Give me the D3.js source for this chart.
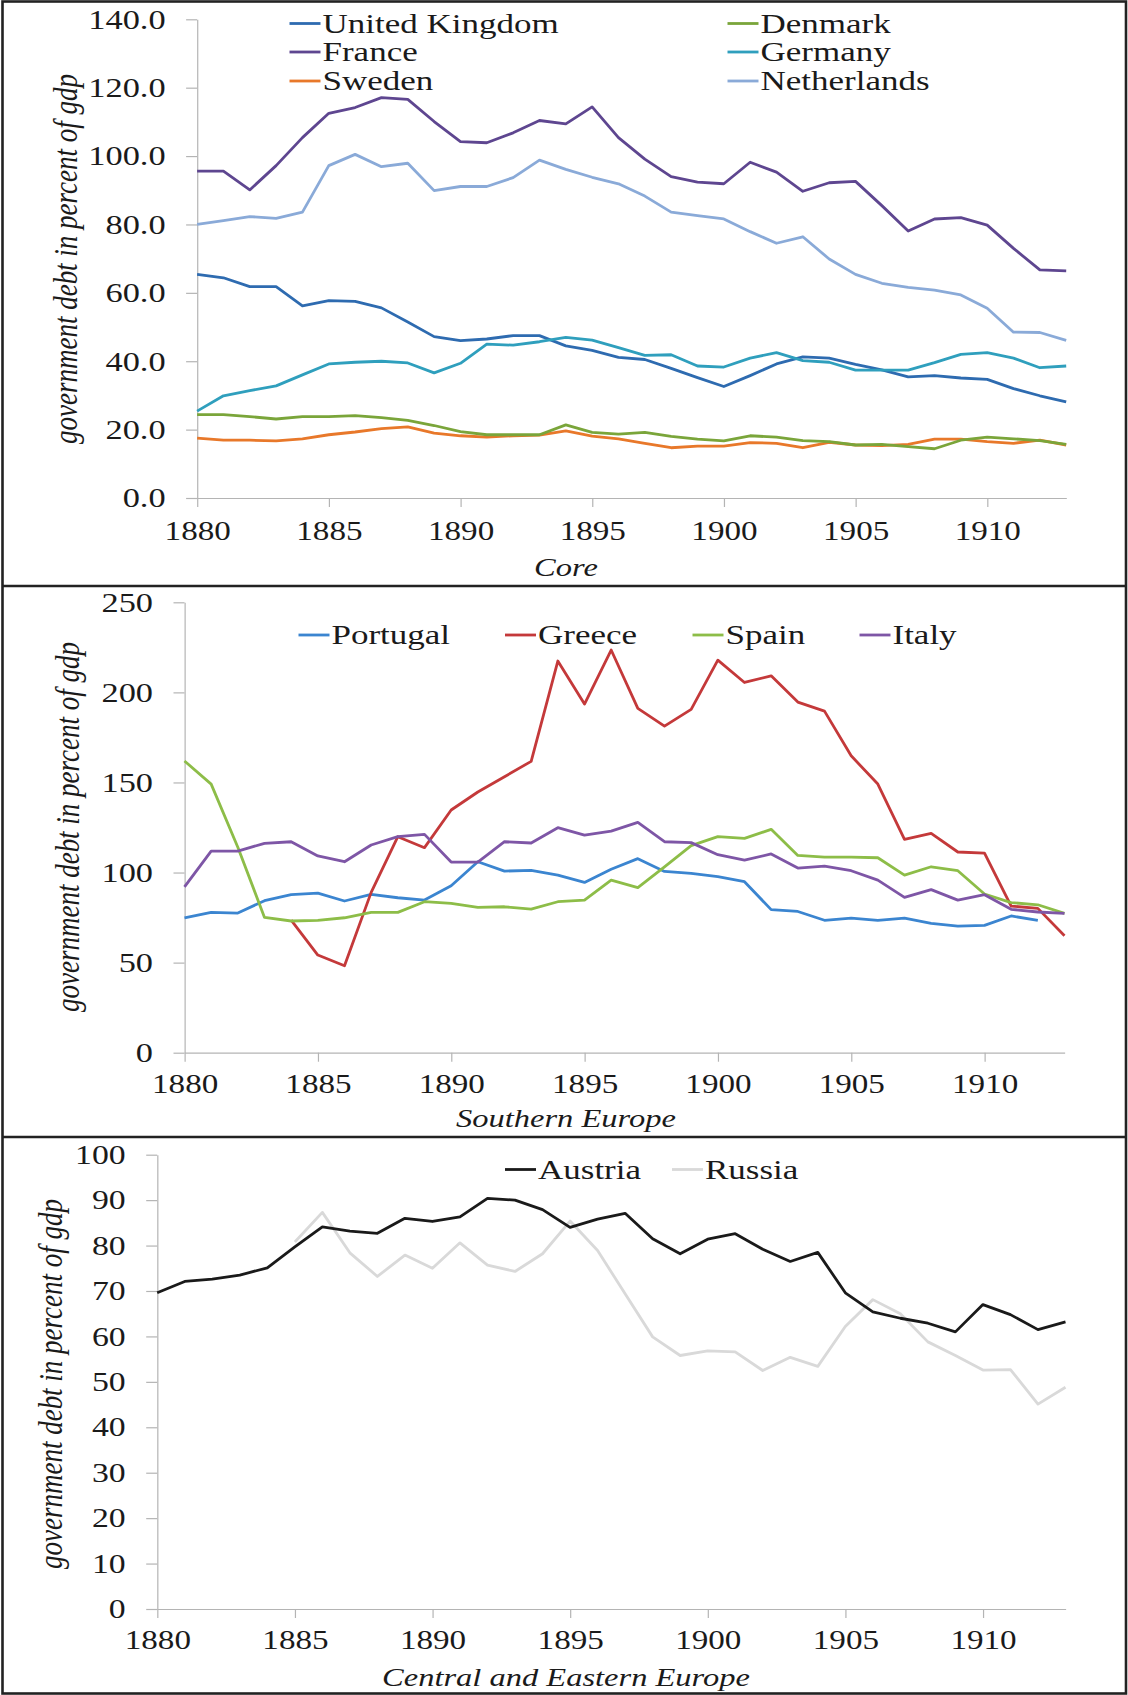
<!DOCTYPE html>
<html>
<head>
<meta charset="utf-8">
<script src="https://cdn.jsdelivr.net/npm/d3@7"></script>
<style>
  html, body { margin: 0; padding: 0; background: #fff; }
  svg { display: block; font-family: "Liberation Serif", "Times New Roman", serif; }
</style>
</head>
<body>
<svg id="chart" width="1128" height="1695"></svg>
<script>
const years = [1880, 1881, 1882, 1883, 1884, 1885, 1886, 1887, 1888, 1889,
    1890, 1891, 1892, 1893, 1894, 1895, 1896, 1897, 1898, 1899,
    1900, 1901, 1902, 1903, 1904, 1905, 1906, 1907, 1908, 1909,
    1910, 1911, 1912, 1913];
const yearTicks = [1880, 1885, 1890, 1895, 1900, 1905, 1910];

// Core
const coreTicks = [0, 20, 40, 60, 80, 100, 120, 140];
const unitedKingdom = [65.4, 64.4, 61.8, 61.8, 56.2, 57.7, 57.5, 55.6, 51.5, 47.2, 46.0, 46.5, 47.5, 47.5, 44.5, 43.2, 41.1, 40.5, 37.9, 35.2, 32.6, 35.8, 39.2, 41.3, 40.9, 39.1, 37.5, 35.4, 35.8, 35.1, 34.7, 32.0, 29.9, 28.1];
const france = [95.6, 95.6, 90.1, 97.2, 105.4, 112.5, 114.2, 117.1, 116.6, 110.1, 104.2, 103.9, 106.8, 110.4, 109.4, 114.4, 105.4, 99.1, 94.0, 92.4, 91.9, 98.2, 95.3, 89.7, 92.2, 92.6, 85.5, 78.1, 81.6, 82.0, 79.8, 73.0, 66.7, 66.4];
const sweden = [17.5, 16.9, 16.9, 16.7, 17.3, 18.5, 19.3, 20.3, 20.8, 19.0, 18.2, 17.8, 18.2, 18.4, 19.6, 18.1, 17.3, 16.0, 14.7, 15.2, 15.2, 16.2, 16.0, 14.7, 16.3, 15.5, 15.3, 15.7, 17.2, 17.2, 16.5, 16.0, 16.9, 15.5];
const denmark = [24.4, 24.4, 23.8, 23.1, 23.8, 23.8, 24.1, 23.5, 22.7, 21.2, 19.4, 18.5, 18.5, 18.5, 21.4, 19.2, 18.7, 19.2, 18.0, 17.2, 16.7, 18.2, 17.8, 16.8, 16.5, 15.5, 15.7, 15.0, 14.4, 16.9, 17.8, 17.3, 16.8, 15.7];
const germany = [25.4, 29.9, 31.4, 32.8, 36.0, 39.2, 39.7, 40.0, 39.5, 36.6, 39.4, 45.0, 44.7, 45.7, 47.0, 46.2, 44.0, 41.7, 41.9, 38.6, 38.3, 40.9, 42.5, 40.2, 39.7, 37.4, 37.4, 37.4, 39.6, 42.0, 42.5, 40.9, 38.1, 38.6];
const netherlands = [80.0, 81.1, 82.3, 81.8, 83.6, 97.2, 100.5, 96.9, 97.9, 89.9, 91.1, 91.1, 93.7, 98.8, 96.1, 93.8, 91.9, 88.3, 83.6, 82.6, 81.6, 77.9, 74.5, 76.4, 69.9, 65.4, 62.8, 61.6, 60.8, 59.4, 55.5, 48.5, 48.4, 46.1];

// Southern Europe
const southTicks = [0, 50, 100, 150, 200, 250];
const portugal = [74.9, 77.9, 77.5, 84.4, 87.7, 88.6, 84.2, 87.9, 86.0, 84.7, 92.7, 106.0, 100.8, 101.2, 98.6, 94.5, 101.8, 107.7, 100.6, 99.5, 97.7, 94.9, 79.4, 78.4, 73.5, 74.7, 73.5, 74.7, 71.8, 70.3, 70.7, 75.9, 73.5, null];
const greece = [null, null, null, null, 73.6, 54.2, 48.3, 89.0, 119.9, 113.8, 134.7, 144.7, 153.2, 161.7, 217.4, 193.5, 223.5, 191.1, 181.3, 190.6, 217.9, 205.5, 209.2, 194.6, 189.6, 164.8, 149.1, 118.4, 121.7, 111.4, 110.8, 81.4, 80.1, 64.9];
const spain = [161.9, 149.1, 114.0, 75.1, 73.1, 73.5, 74.9, 77.9, 77.9, 83.8, 82.9, 80.7, 81.0, 79.7, 83.8, 84.7, 95.8, 91.6, 103.2, 114.9, 119.9, 119.0, 124.0, 109.5, 108.6, 108.6, 108.2, 98.6, 103.2, 101.0, 88.1, 83.3, 82.1, 77.3];
const italy = [92.0, 111.9, 111.9, 116.2, 117.1, 109.2, 106.0, 115.3, 119.9, 121.2, 105.8, 105.8, 117.1, 116.4, 124.9, 120.8, 123.0, 127.8, 117.1, 116.6, 109.9, 106.9, 110.3, 102.5, 103.6, 101.0, 95.8, 86.2, 90.5, 84.7, 87.7, 79.6, 78.1, 77.3];

// Central and Eastern Europe
const ceeTicks = [0, 10, 20, 30, 40, 50, 60, 70, 80, 90, 100];
const austria = [69.6, 72.1, 72.6, 73.5, 75.1, 79.7, 84.1, 83.2, 82.7, 86.0, 85.3, 86.3, 90.4, 90.0, 87.9, 84.0, 85.8, 87.1, 81.5, 78.2, 81.4, 82.6, 79.2, 76.5, 78.5, 69.6, 65.4, 64.0, 62.9, 61.0, 67.0, 64.8, 61.5, 63.2];
const russia = [null, null, null, null, null, 80.8, 87.3, 78.4, 73.2, 77.9, 75.0, 80.6, 75.7, 74.3, 78.2, 85.4, 78.9, 69.4, 59.9, 55.8, 56.8, 56.6, 52.5, 55.4, 53.4, 62.2, 68.1, 65.0, 58.8, 55.8, 52.6, 52.7, 45.1, 48.8];

// the source figure is stretched sideways, text included
const SX = 1.25;
const sx = (v) => v / SX;

const svg = d3.select("#chart");
const root = svg.append("g").attr("transform", `scale(${SX},1)`);

function drawPanel(p) {
    const g = root.append("g");
    const x = d3.scaleLinear().domain([1880, 1913]).range([sx(p.left), sx(p.right)]);
    const y = d3.scaleLinear().domain([0, p.yMax]).range([p.bottom, p.top]);

    const yAxis = g.append("g")
        .attr("transform", `translate(${sx(p.left)},0)`)
        .call(d3.axisLeft(y)
            .tickValues(p.yTicks)
            .tickFormat(d3.format(p.fmt))
            .tickSize(sx(11))
            .tickSizeOuter(0)
            .tickPadding(sx(20.5)));
    yAxis.selectAll("text").attr("font-size", p.yFont);

    const xAxis = g.append("g")
        .attr("transform", `translate(0,${p.bottom})`)
        .call(d3.axisBottom(x)
            .tickValues(yearTicks)
            .tickFormat(d3.format("d"))
            .tickSize(9)
            .tickSizeOuter(0));
    xAxis.selectAll("text").attr("font-size", 26.5).attr("y", p.xLabelGap).attr("dy", null);

    g.selectAll(".domain, .tick line")
        .attr("stroke", "#b4b4b4")
        .attr("stroke-width", 1.2)
        .attr("vector-effect", "non-scaling-stroke");
    g.selectAll(".tick text").attr("fill", "#1a1a1a");
    yAxis.attr("font-family", null);
    xAxis.attr("font-family", null);

    const line = d3.line()
        .defined((d) => d != null)
        .x((d, i) => x(years[i]))
        .y((d) => y(d));

    g.selectAll(".series")
        .data(p.series)
        .join("path")
            .attr("class", "series")
            .attr("fill", "none")
            .attr("stroke", (s) => s.color)
            .attr("stroke-width", 2.8)
            .attr("stroke-linejoin", "round")
            .attr("vector-effect", "non-scaling-stroke")
            .attr("d", (s) => line(s.values));

    // legend
    const items = g.selectAll(".legend")
        .data(p.series)
        .join("g")
            .attr("class", "legend");
    items.append("line")
        .attr("x1", (s) => sx(s.lx))
        .attr("x2", (s) => sx(s.lx + 31))
        .attr("y1", (s) => s.ly)
        .attr("y2", (s) => s.ly)
        .attr("stroke", (s) => s.color)
        .attr("stroke-width", 2.8);
    items.append("text")
        .attr("x", (s) => sx(s.lx + 33))
        .attr("y", (s) => s.ly + 9.5)
        .attr("font-size", p.legendFont)
        .attr("fill", "#1a1a1a")
        .text((s) => s.name);

    // axis title and panel caption
    g.append("text")
        .attr("transform", `translate(${sx(p.titleX)},${p.titleY}) rotate(-90)`)
        .attr("text-anchor", "middle")
        .attr("dominant-baseline", "central")
        .attr("font-size", 27)
        .attr("font-style", "italic")
        .attr("fill", "#1a1a1a")
        .text("government debt in percent of gdp");

    g.append("text")
        .attr("x", sx(566))
        .attr("y", p.captionY)
        .attr("text-anchor", "middle")
        .attr("font-size", 26)
        .attr("font-style", "italic")
        .attr("fill", "#1a1a1a")
        .text(p.caption);
}

drawPanel({
    left: 197.1, right: 1066.2, top: 19.3, bottom: 498,
    yMax: 140, yTicks: coreTicks, fmt: ".1f", yFont: 27.5, xLabelGap: 42,
    legendFont: 28, titleX: 66, titleY: 259, caption: "Core", captionY: 576.5,
    series: [
        {name: "United Kingdom", values: unitedKingdom, color: "#2e6bb0", lx: 289.5, ly: 23.5},
        {name: "France", values: france, color: "#5e4690", lx: 289.5, ly: 52},
        {name: "Sweden", values: sweden, color: "#e8782a", lx: 289.5, ly: 81},
        {name: "Denmark", values: denmark, color: "#7aa53a", lx: 727.5, ly: 23.5},
        {name: "Germany", values: germany, color: "#2f9fbd", lx: 727.5, ly: 52},
        {name: "Netherlands", values: netherlands, color: "#8aaad8", lx: 727.5, ly: 81}
    ]
});

drawPanel({
    left: 184.5, right: 1064.5, top: 602.3, bottom: 1052.7,
    yMax: 250, yTicks: southTicks, fmt: "d", yFont: 27.5, xLabelGap: 40,
    legendFont: 28, titleX: 68, titleY: 827, caption: "Southern Europe", captionY: 1127,
    series: [
        {name: "Portugal", values: portugal, color: "#3b85d0", lx: 298.5, ly: 635},
        {name: "Greece", values: greece, color: "#c4393a", lx: 505, ly: 635},
        {name: "Spain", values: spain, color: "#8dbd48", lx: 692.5, ly: 635},
        {name: "Italy", values: italy, color: "#7e56a6", lx: 859.5, ly: 635}
    ]
});

drawPanel({
    left: 157.2, right: 1065.5, top: 1154.7, bottom: 1609,
    yMax: 100, yTicks: ceeTicks, fmt: "d", yFont: 27, xLabelGap: 40.5,
    legendFont: 28, titleX: 51, titleY: 1384, caption: "Central and Eastern Europe", captionY: 1686,
    series: [
        {name: "Russia", values: russia, color: "#d9d9d9", lx: 672, ly: 1169.5},
        {name: "Austria", values: austria, color: "#1a1a1a", lx: 505, ly: 1169.5}
    ]
});

// frame around the three panels
const frame = svg.append("g")
    .attr("fill", "none")
    .attr("stroke", "#222")
    .attr("stroke-width", 2.6);
frame.append("rect").attr("x", 2.5).attr("y", 1.5).attr("width", 1123.5).attr("height", 1692);
frame.append("line").attr("x1", 2.5).attr("x2", 1126).attr("y1", 586).attr("y2", 586);
frame.append("line").attr("x1", 2.5).attr("x2", 1126).attr("y1", 1137).attr("y2", 1137);
</script>
</body>
</html>
